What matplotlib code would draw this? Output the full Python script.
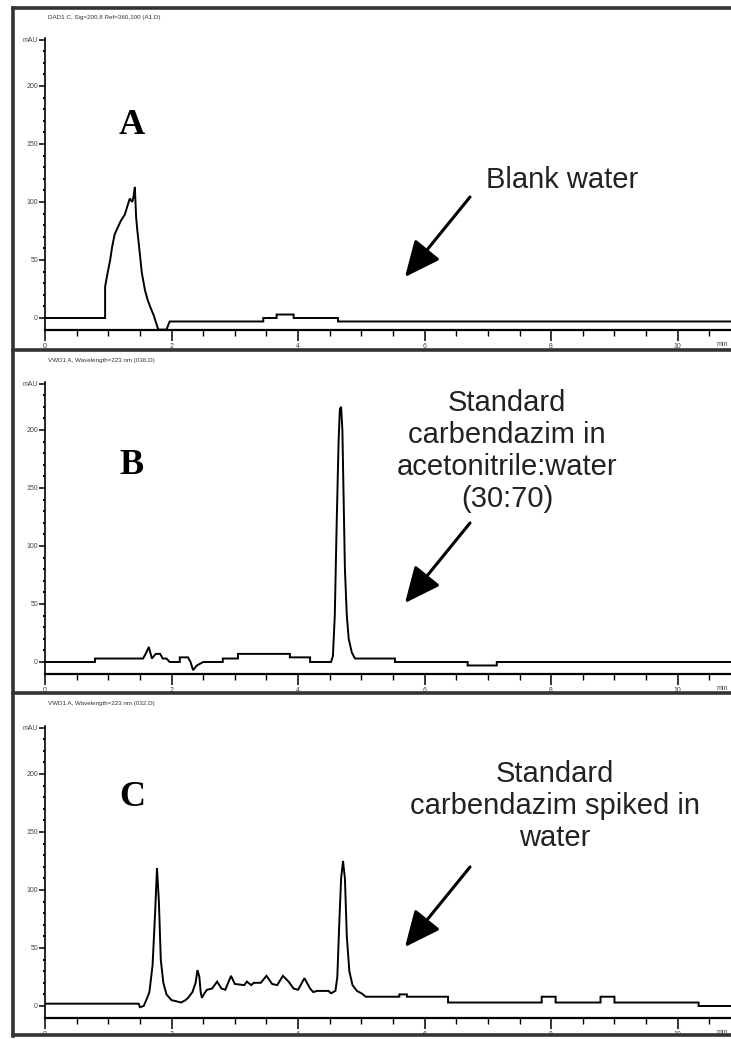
import matplotlib.pyplot as plt
from matplotlib.lines import Line2D
from matplotlib.patches import FancyArrowPatch

W, H = 731, 1039

# chromatogram A - blank water (time in min, signal in mAU)
a_time = [0, 0.95, 0.95, 0.99, 1.03, 1.06, 1.10, 1.15, 1.20, 1.26, 1.30, 1.34, 1.38, 1.40,
          1.42, 1.44, 1.46, 1.49, 1.53, 1.58, 1.62, 1.66, 1.72, 1.79, 1.92, 1.97,
          3.45, 3.45, 3.66, 3.66, 3.93, 3.93, 4.63, 4.63, 11.0]
a_mau = [0, 0, 27, 39, 50, 61, 72, 78, 84, 89, 96, 103, 100, 105,
         113, 87, 75, 60, 39, 24, 16, 10, 2, -10, -10, -3,
         -3, 0, 0, 3, 3, 0, 0, -3, -3]

# chromatogram B - standard in acetonitrile:water
b_time = [0, 0.79, 0.79, 1.55, 1.60, 1.64, 1.69, 1.75, 1.82, 1.86, 1.92, 1.97, 2.13, 2.13,
          2.26, 2.30, 2.34, 2.40, 2.50, 2.81, 2.81, 3.05, 3.05, 3.87, 3.87, 4.19, 4.19,
          4.52, 4.55, 4.58, 4.61, 4.64, 4.66, 4.68, 4.70, 4.72, 4.74, 4.77, 4.80, 4.85,
          4.90, 5.53, 5.53, 6.68, 6.68, 7.14, 7.14, 11.0]
b_mau = [0, 0, 3, 3, 8, 13, 3, 7, 7, 3, 3, 0, 0, 4,
         4, 0, -7, -3, 0, 0, 3, 3, 7, 7, 4, 4, 0,
         0, 5, 40, 120, 190, 218, 220, 200, 140, 80, 40, 20, 8,
         3, 3, 0, 0, -3, -3, 0, 0]

# chromatogram C - standard spiked in water
c_time = [0, 1.48, 1.50, 1.56, 1.60, 1.65, 1.70, 1.74, 1.77, 1.80, 1.83, 1.87, 1.92, 2.00,
          2.08, 2.15, 2.22, 2.26, 2.33, 2.38, 2.41, 2.44, 2.46, 2.48, 2.52, 2.56, 2.64,
          2.72, 2.79, 2.85, 2.94, 3.00, 3.15, 3.19, 3.26, 3.30, 3.41, 3.50, 3.59, 3.67,
          3.76, 3.85, 3.93, 4.00, 4.10, 4.19, 4.24, 4.30, 4.48, 4.52, 4.59, 4.62, 4.65,
          4.68, 4.71, 4.74, 4.77, 4.81, 4.86, 4.93, 5.00, 5.07, 5.60, 5.60, 5.72, 5.72,
          6.37, 6.37, 7.85, 7.85, 8.07, 8.07, 8.78, 8.78, 9.00, 9.00, 10.33, 10.33, 11.0]
c_mau = [2, 2, -1, 0, 5, 12, 35, 80, 119, 90, 40, 20, 10, 5,
         4, 3, 5, 7, 12, 20, 31, 25, 12, 7, 11, 14, 15,
         21, 15, 14, 26, 19, 18, 21, 18, 20, 20, 26, 19, 18,
         26, 21, 15, 14, 24, 15, 12, 13, 13, 11, 13, 25, 70,
         110, 125, 110, 60, 30, 18, 13, 11, 8, 8, 10, 10, 8,
         8, 3, 3, 8, 8, 3, 3, 8, 8, 3, 3, 0, 0]

subtitles = ["DAD1 C, Sig=200,8 Ref=360,100 (A1.D)",
             "VWD1 A, Wavelength=223 nm (036.D)",
             "VWD1 A, Wavelength=223 nm (032.D)"]
letters = ["A", "B", "C"]
notes = ["Blank water",
         "Standard\ncarbendazim in\nacetonitrile:water\n(30:70)",
         "Standard\ncarbendazim spiked in\nwater"]

y_ticks = [0, 50, 100, 150, 200, 240]
y_labels = ["0", "50", "100", "150", "200", "mAU"]
x_ticks = [0, 2, 4, 6, 8, 10]


def fx(px):
    return px / W


def fy(py):
    return 1 - py / H


def draw_panel(fig, zero_px, t, v, subtitle, sub_y, letter, letter_y, note, note_xy, arrow):
    # 1 mAU ~ 1.16 px, axis runs from -10 to 241
    bottom = zero_px + 10 * 1.16
    ax = fig.add_axes([fx(45), fy(bottom), 696 / W, 251 * 1.16 / H])
    ax.plot(t, v, color='black', lw=1.4, solid_joinstyle='miter')
    ax.set_xlim(0, 11)
    ax.set_ylim(-10, 241)
    ax.patch.set_alpha(0)
    for s in ['top', 'right']:
        ax.spines[s].set_visible(False)
    ax.spines['bottom'].set_linewidth(1.6)
    ax.spines['left'].set_linewidth(1.2)

    ax.set_xticks(x_ticks)
    ax.set_xticklabels([str(x) for x in x_ticks])
    ax.set_xticks([i * 0.5 for i in range(22)], minor=True)
    ax.set_yticks(y_ticks)
    ax.set_yticklabels(y_labels)
    ax.set_yticks(list(range(0, 241, 10)), minor=True)
    ax.tick_params(axis='x', which='major', direction='out', length=8, width=1.1,
                   labelsize=5, pad=1.5, labelcolor='#444')
    ax.tick_params(axis='x', which='minor', direction='out', length=4, width=1.0)
    ax.tick_params(axis='y', which='major', direction='out', length=4, width=1.1,
                   labelsize=5, pad=1, labelcolor='#444')
    ax.tick_params(axis='y', which='minor', direction='out', length=1.5, width=1.5)
    ax.annotate("min", xy=(10.62, 0), xycoords=('data', 'axes fraction'),
                xytext=(0, -11), textcoords='offset points', fontsize=5,
                color='#444', ha='left', va='center', annotation_clip=False)

    fig.text(fx(48), fy(sub_y), subtitle, fontsize=4.5, color='#333', va='center', ha='left')
    fig.text(fx(132), fy(letter_y), letter, family='Liberation Serif', weight='bold',
             fontsize=26, ha='center', va='center')
    fig.text(fx(note_xy[0]), fy(note_xy[1]), note, fontsize=21, ha='center', va='center',
             linespacing=1.17, color='#222')
    arr = FancyArrowPatch(posA=(fx(arrow[0]), fy(arrow[1])), posB=(fx(arrow[2]), fy(arrow[3])),
                          transform=fig.transFigure,
                          arrowstyle='-|>,head_length=1.1,head_width=0.5',
                          mutation_scale=20, lw=2.2, color='black', shrinkA=0, shrinkB=0)
    fig.add_artist(arr)
    return ax


def main():
    plt.rcParams['font.family'] = ['Liberation Sans', 'DejaVu Sans']
    fig = plt.figure(figsize=(W / 100, H / 100), dpi=100)

    draw_panel(fig, 318, a_time, a_mau, subtitles[0], 18, letters[0], 125,
               notes[0], (562, 180), (470, 197, 405, 277))
    draw_panel(fig, 662, b_time, b_mau, subtitles[1], 360, letters[1], 465,
               notes[1], (507, 451), (470, 523, 405, 603))
    draw_panel(fig, 1006, c_time, c_mau, subtitles[2], 703, letters[2], 798,
               notes[2], (555, 806), (470, 867, 405, 947))

    # panel frame lines
    lines = [([13, 13], [8, 1036]), ([13, 731], [8, 8]), ([13, 731], [350, 350]),
             ([13, 731], [693, 693]), ([13, 731], [1035, 1035])]
    for xs, ys in lines:
        fig.add_artist(Line2D([fx(x) for x in xs], [fy(y) for y in ys],
                              transform=fig.transFigure, lw=2.6, color='#333'))

    fig.savefig("out.png", dpi=100)


if __name__ == '__main__':
    main()
